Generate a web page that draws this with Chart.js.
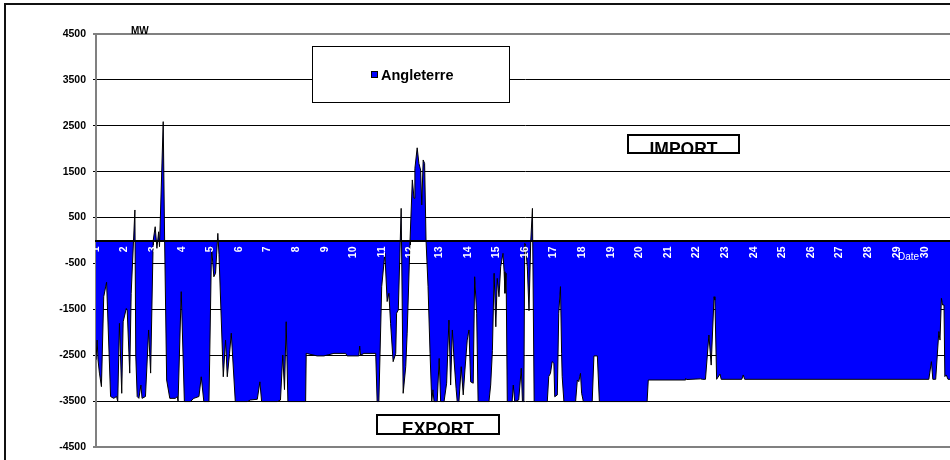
<!DOCTYPE html>
<html>
<head>
<meta charset="utf-8">
<title>Angleterre</title>
<script src="https://cdn.jsdelivr.net/npm/chart.js@4.4.1/dist/chart.umd.min.js"></script>
<style>
  html, body { margin: 0; padding: 0; background: #fff; overflow: hidden; }
  #wrap { width: 960px; height: 470px; }
</style>
</head>
<body>
<div id="wrap"><canvas id="chart" width="960" height="470"></canvas></div>
<script>
// exchange with England over the month, MW (negative = export)
const seriesName = "Angleterre";

const days = [
  1.00, 1.04, 1.07, 1.12, 1.19, 1.27, 1.37, 1.51, 1.62, 1.72, 1.76, 1.82, 1.90, 1.95,
  2.06, 2.09, 2.18, 2.23, 2.36, 2.39, 2.44, 2.50, 2.57, 2.61, 2.73, 2.84, 2.91,
  3.00, 3.07, 3.13, 3.19, 3.22, 3.35, 3.40, 3.47, 3.58, 3.78, 3.84, 3.87, 3.98,
  4.09, 4.30, 4.42, 4.60, 4.68, 4.77, 4.95,
  5.04, 5.12, 5.18, 5.26, 5.30, 5.45, 5.53, 5.59, 5.67, 5.73, 5.87,
  6.29, 6.40, 6.64, 6.73, 6.79, 7.34, 7.45, 7.53, 7.59, 7.65, 7.71,
  8.33, 8.35, 8.73, 8.97, 9.32, 9.73, 9.78, 10.19, 10.22, 10.25, 10.37, 10.78, 10.83, 10.89, 10.99,
  11.10, 11.18, 11.24, 11.30, 11.39, 11.48, 11.51, 11.57, 11.67, 11.74, 11.83, 11.88, 11.98,
  12.06, 12.12, 12.15, 12.23, 12.29, 12.35, 12.39, 12.44, 12.49, 12.54, 12.61, 12.68, 12.74, 12.78, 12.82, 12.93,
  13.00, 13.05, 13.17, 13.26, 13.34, 13.40, 13.46, 13.52, 13.59, 13.63, 13.69, 13.77, 13.84, 13.90, 13.98,
  14.04, 14.10, 14.19, 14.24, 14.31, 14.36, 14.74, 14.80, 14.86, 14.92, 14.98,
  15.03, 15.09, 15.15, 15.23, 15.27, 15.30, 15.34, 15.38, 15.55, 15.59, 15.64, 15.78, 15.87, 15.91, 15.96, 15.99,
  16.02, 16.08, 16.14, 16.20, 16.26, 16.32, 16.78, 16.83, 16.89, 16.95,
  17.01, 17.04, 17.13, 17.18, 17.24, 17.28, 17.30, 17.36, 17.77, 17.83, 17.88, 17.94, 17.98,
  18.04, 18.35, 18.41, 18.53, 18.60, 20.27, 20.31, 21.60, 21.62, 21.65,
  22.14, 22.20, 22.31, 22.43, 22.51, 22.61, 22.64, 22.70, 22.82, 22.86, 23.58, 23.63, 23.68,
  30.12, 30.21, 30.26, 30.36, 30.47, 30.51, 30.56, 30.60, 30.65, 30.68, 30.73, 30.79, 31.00
];

const flowMW = [
  -2600, -2170, -2600, -2890, -3185, -1225, -910, -3400, -3440, -3400, -3510, -1805, -3330, -1770,
  -1480, -1515, -2890, -1150, 665, -2500, -3400, -3440, -3150, -3440, -3400, -1950, -2890,
  0, 300, -170, 190, -135, 2590, 0, -3040, -3440, -3440, -3400, -3510, -1115,
  -3510, -3510, -3440, -3400, -2970, -3510, -3510,
  -135, -790, -715, 155, -300, -2970, -2170, -2970, -2460, -2020, -3510,
  -3510, -3475, -3460, -3080, -3510, -3510, -3475, -2495, -3250, -1770, -3510,
  -3510, -2460, -2515, -2515, -2460, -2460, -2515, -2515, -2300, -2500, -2460, -2460, -3510, -3510, -1005,
  -280, -1330, -1150, -1805, -2640, -2460, -1585, -1515, 700, -3330, -2750, -2020, 0,
  1320, 920, 1570, 2020, 1680, 1535, 775, 1755, 1680, 0, -1005, -2460, -3510, -3255, -3510, -3510,
  -2570, -3510, -3510, -3110, -1735, -3150, -1950, -2605, -3220, -3510, -3510, -2750, -3365, -2820, -2170,
  -1950, -3080, -3110, -790, -1585, -3510, -3510, -3150, -2400, -715, -1880,
  -825, -1225, -570, -280, -680, -1150, -715, -3510, -3510, -3150, -3510, -3475, -2785, -3510, -3510, -60,
  -100, -570, -1530, -20, 700, -3510, -3510, -2965, -2895, -2640,
  -2675, -3405, -3365, -1585, -1005, -2460, -2965, -3510, -3510, -3040, -3075, -2895, -3330,
  -3510, -3510, -2515, -2515, -3510, -3510, -3040, -3040, -3005, -3030,
  -3015, -3025, -3025, -2060, -2715, -1225, -1300, -3025, -2910, -3025, -3025, -2930, -3025,
  -3025, -2640, -3025, -3025, -1985, -2170, -1260, -1405, -1405, -2965, -2930, -3025, -3025
];

const dayTicks = [1, 2, 3, 4, 5, 6, 7, 8, 9, 10, 11, 12, 13, 14, 15,
  16, 17, 18, 19, 20, 21, 22, 23, 24, 25, 26, 27, 28, 29, 30];
const mwTicks = [-4500, -3500, -2500, -1500, -500, 500, 1500, 2500, 3500, 4500];

const FONT = "'Liberation Sans', Arial, sans-serif";

// frame, legend box, IMPORT / EXPORT boxes and axis captions
const annotations = {
  id: "annotations",
  beforeDraw(chart) {
    const c = chart.ctx;
    c.save();
    c.fillStyle = "#fff";
    c.fillRect(0, 0, chart.width, chart.height);
    c.restore();
  },
  afterDraw(chart) {
    const c = chart.ctx;
    c.save();

    // outer frame
    c.strokeStyle = "#111";
    c.lineWidth = 2;
    c.strokeRect(5, 4, chart.width + 10, chart.height + 10);

    // legend
    c.fillStyle = "#fff";
    c.fillRect(312.5, 46.5, 197, 56);
    c.strokeStyle = "#000";
    c.lineWidth = 1;
    c.strokeRect(312.5, 46.5, 197, 56);
    c.fillStyle = "#0000ff";
    c.fillRect(371, 71, 7, 7);
    c.strokeRect(371.5, 71.5, 6, 6);
    c.fillStyle = "#000";
    c.font = "bold 14.5px " + FONT;
    c.textBaseline = "middle";
    c.textAlign = "left";
    c.fillText(chart.data.datasets[0].label, 381, 75.5);

    // clipped text boxes
    const box = (x, y, w, h, text, baseY) => {
      c.save();
      c.fillStyle = "#fff";
      c.fillRect(x, y, w, h);
      c.beginPath();
      c.rect(x, y, w, h);
      c.clip();
      c.fillStyle = "#000";
      c.font = "bold 17.5px " + FONT;
      c.textAlign = "center";
      c.textBaseline = "alphabetic";
      c.fillText(text, x + w / 2, baseY);
      c.restore();
      c.strokeStyle = "#000";
      c.lineWidth = 2;
      c.strokeRect(x, y, w, h);
    };
    box(628, 135, 111, 18, "IMPORT", 154.5);
    box(377, 415, 122, 19, "EXPORT", 434.5);

    // axis captions
    c.fillStyle = "#000";
    c.font = "bold 10px " + FONT;
    c.textAlign = "left";
    c.textBaseline = "alphabetic";
    c.fillText("MW", 131, 34);
    c.fillStyle = "#fff";
    c.font = "10px " + FONT;
    c.fillText("Date", 898, 260);

    c.restore();
  }
};

new Chart(document.getElementById("chart"), {
  type: "line",
  data: {
    datasets: [{
      label: seriesName,
      data: days.map((d, i) => ({ x: d, y: flowMW[i] })),
      borderColor: "#000",
      borderWidth: 1,
      backgroundColor: "#0000ff",
      fill: "origin",
      pointRadius: 0,
      tension: 0
    }]
  },
  options: {
    responsive: false,
    animation: false,
    layout: { padding: { left: 0, top: 34, right: 6, bottom: 23 } },
    plugins: {
      legend: { display: false },
      tooltip: { enabled: false }
    },
    scales: {
      x: {
        type: "linear",
        position: { y: 0 },
        min: 1,
        max: 31,
        afterBuildTicks: (s) => { s.ticks = dayTicks.map(v => ({ value: v })); },
        ticks: {
          color: "#fff",
          font: { family: FONT, size: 10.5, weight: "bold" },
          minRotation: 90,
          maxRotation: 90,
          autoSkip: false,
          padding: 3,
          z: 1,
          callback: (v) => String(v)
        },
        grid: { drawOnChartArea: false, tickLength: 3, color: "#000" },
        border: { color: "#000", width: 2, z: 1 }
      },
      y: {
        min: -4500,
        max: 4500,
        afterBuildTicks: (s) => { s.ticks = mwTicks.map(v => ({ value: v })); },
        afterFit: (s) => { s.width = 96; },
        ticks: {
          color: "#000",
          font: { family: FONT, size: 10.5, weight: "bold" },
          padding: 7,
          callback: (v) => String(v)
        },
        grid: {
          color: (ctx) => Math.abs(ctx.tick.value) === 4500 ? "#808080" : "#000",
          lineWidth: (ctx) => Math.abs(ctx.tick.value) === 4500 ? 2 : 1,
          tickLength: 3
        },
        border: { color: "#808080", width: 2 }
      }
    }
  },
  plugins: [annotations]
});
</script>
</body>
</html>
